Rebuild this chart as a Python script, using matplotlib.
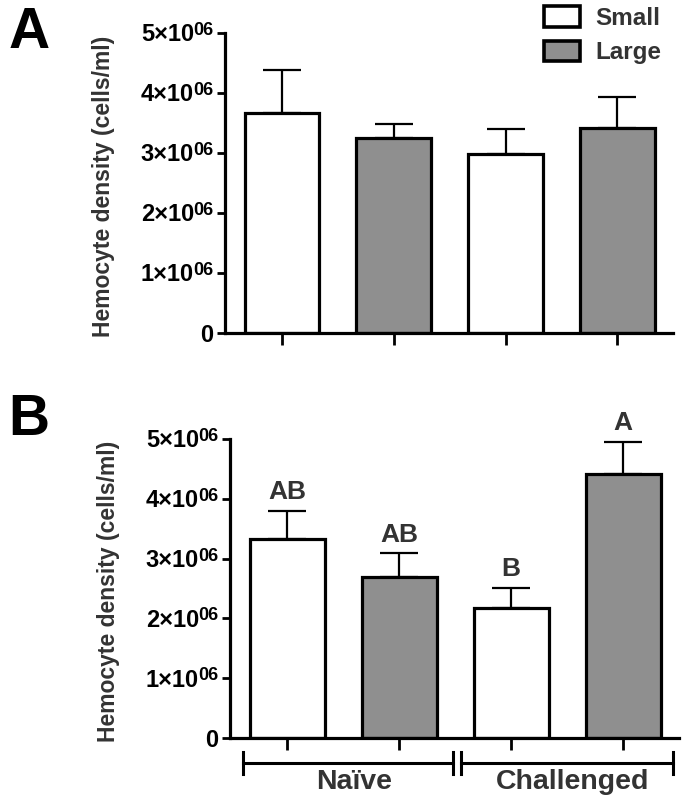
import matplotlib
matplotlib.use('Agg')
import matplotlib.pyplot as plt
from matplotlib.patches import Patch
from matplotlib.transforms import blended_transform_factory

plt.rcParams['font.family'] = ['Liberation Sans', 'DejaVu Sans']
plt.rcParams['font.weight'] = 'bold'

# data (cells/ml)
series = ['Small', 'Large', 'Small', 'Large']
a_means = [3.67e6, 3.25e6, 2.98e6, 3.42e6]
a_sem = [0.71e6, 0.23e6, 0.42e6, 0.51e6]
b_means = [3.33e6, 2.69e6, 2.17e6, 4.42e6]
b_sem = [0.47e6, 0.40e6, 0.34e6, 0.53e6]
b_letters = ['AB', 'AB', 'B', 'A']
groups = ['Naïve', 'Challenged']
yticks = [0, 1e6, 2e6, 3e6, 4e6, 5e6]

fill = {'Small': 'white', 'Large': '#8f8f8f'}
txt = '#333333'


def tick_labels(ax):
    # "n×10" with a big "06" exponent, drawn as plain text next to each tick
    tr = ax.get_yaxis_transform()
    for v in yticks:
        if v == 0:
            ax.annotate('0', xy=(0, v), xycoords=tr, xytext=(-8.6, -6.3),
                        textcoords='offset points', ha='right', va='baseline',
                        fontsize=17, fontweight='bold')
            continue
        ax.annotate('%d×10' % round(v / 1e6), xy=(0, v), xycoords=tr,
                    xytext=(-22.3, -6.1), textcoords='offset points',
                    ha='right', va='baseline', fontsize=17, fontweight='bold')
        ax.annotate('06', xy=(0, v), xycoords=tr, xytext=(-8.6, -1.4),
                    textcoords='offset points', ha='right', va='baseline',
                    fontsize=13, fontweight='bold')


def draw_panel(ax, means, sem):
    x = range(len(means))
    ax.bar(x, means, width=0.67, color=[fill[s] for s in series],
           edgecolor='black', linewidth=2.3, zorder=2)
    ax.errorbar(x, means, yerr=[[0] * len(sem), sem], fmt='none',
                ecolor='black', elinewidth=1.6, capsize=13.5, capthick=1.6, zorder=1)
    ax.set_xlim(-0.51, 3.5)
    ax.set_ylim(0, 5e6)
    ax.set_yticks(yticks)
    ax.set_yticklabels([])
    ax.set_xticks(list(x))
    ax.set_xticklabels([])
    for s in ['top', 'right']:
        ax.spines[s].set_visible(False)
    for s in ['left', 'bottom']:
        ax.spines[s].set_linewidth(2.3)
    ax.tick_params(axis='y', length=6, width=2)
    ax.tick_params(axis='x', length=8.5, width=2)
    ax.set_ylabel('Hemocyte density (cells/ml)', fontsize=16.5, color=txt,
                  fontweight='bold')
    ax.yaxis.set_label_coords(-0.245, 0.49)
    tick_labels(ax)


fig = plt.figure(figsize=(6.87, 8.10), dpi=100)
axA = fig.add_axes([0.3275, 0.5889, 0.6525, 0.3704])
axB = fig.add_axes([0.3348, 0.0889, 0.6536, 0.3691])

draw_panel(axA, a_means, a_sem)
draw_panel(axB, b_means, b_sem)

# significance letters
for i, (m, e, lab) in enumerate(zip(b_means, b_sem, b_letters)):
    axB.text(i, m + e + 0.11e6, lab, ha='center', va='bottom', fontsize=19,
             fontweight='bold', color=txt)

# group brackets under panel B
tr = blended_transform_factory(axB.transData, axB.transAxes)
yb = -0.0836
cap = 0.037
spans = [(-0.39, 1.48), (1.55, 3.45)]
label_x = [0.6, 2.55]
for (x0, x1), lx, g in zip(spans, label_x, groups):
    axB.plot([x0, x1], [yb, yb], color='black', lw=2.2, transform=tr, clip_on=False)
    for xe in (x0, x1):
        axB.plot([xe, xe], [yb - cap, yb + cap], color='black', lw=2.2,
                 transform=tr, clip_on=False)
    axB.text(lx, -0.105, g, ha='center', va='top', fontsize=20.5,
             fontweight='bold', color=txt, transform=tr)

# legend
handles = [Patch(facecolor=fill['Small'], edgecolor='black', linewidth=2.6, label='Small'),
           Patch(facecolor=fill['Large'], edgecolor='black', linewidth=2.6, label='Large')]
leg = fig.legend(handles=handles, loc='upper right', bbox_to_anchor=(0.962, 0.992),
                 frameon=False, fontsize=17.5, handlelength=1.5, handleheight=0.95,
                 handletextpad=0.6, labelspacing=0.42, borderpad=0, borderaxespad=0)
for t in leg.get_texts():
    t.set_color(txt)
    t.set_fontweight('bold')

# panel letters
fig.text(0.012, 0.992, 'A', fontsize=41, fontweight='bold', va='top', ha='left')
fig.text(0.012, 0.515, 'B', fontsize=41, fontweight='bold', va='top', ha='left')

fig.savefig('out.png', dpi=100)
